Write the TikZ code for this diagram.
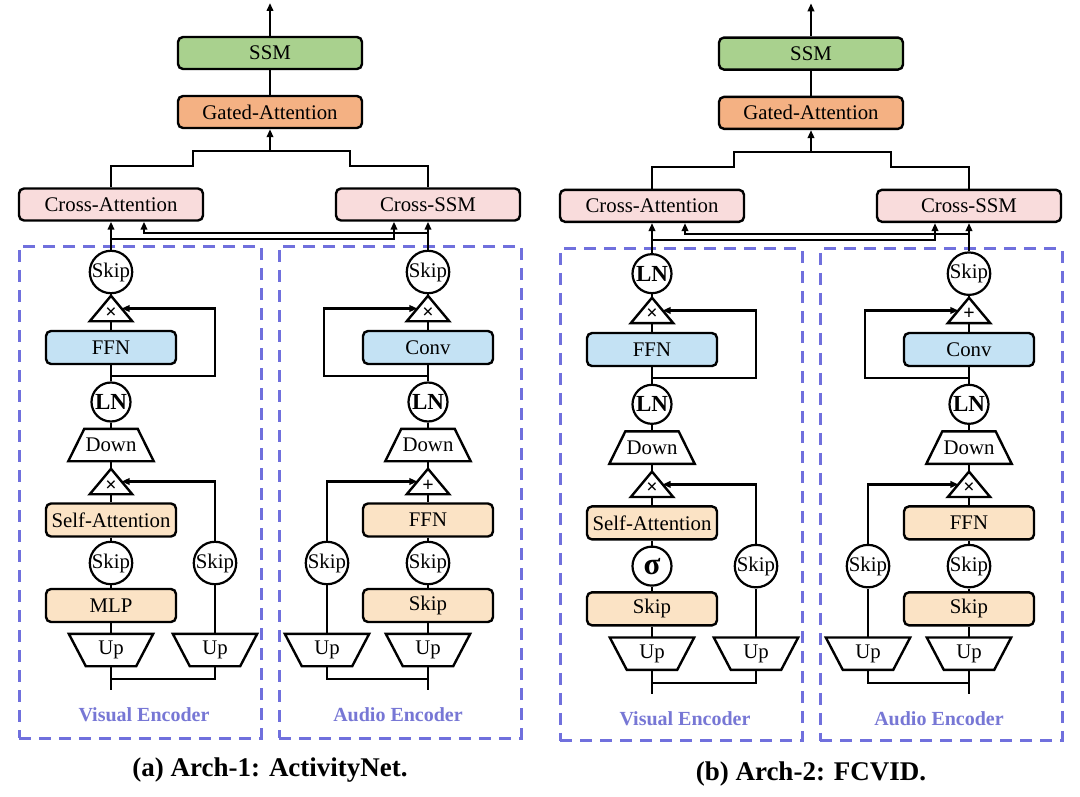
\documentclass[tikz,border=0pt]{standalone}
\usepackage{fontspec}
\setmainfont{Liberation Serif}
\usetikzlibrary{arrows.meta,calc}
\definecolor{cgreen}{HTML}{A9D18E}
\definecolor{cgated}{HTML}{F4B183}
\definecolor{cpink}{HTML}{F9DCDC}
\definecolor{cblue}{HTML}{C4E2F4}
\definecolor{cpeach}{HTML}{FBE3C5}
\definecolor{cdash}{HTML}{7070DD}
\definecolor{clabel}{HTML}{7777D5}
\newcommand\fs{\fontsize{20.8}{22}\selectfont}
\newcommand\LNtxt{{\fontsize{23}{23}\selectfont\bfseries LN}}
\newcommand\SigTxt{{\fontsize{31}{31}\selectfont\bfseries σ}}
\newcommand\TriSym[1]{\raisebox{-9.5pt}[0pt][0pt]{#1}}
\tikzset{
  wire/.style={line width=2.2pt},
  arr/.style={wire, -{Triangle[length=8pt,width=6.5pt]}},
  blk/.style={draw, line width=2.4pt, rounded corners=5pt, minimum width=130pt, minimum height=33pt, inner sep=0pt, font=\fs},
  topbox/.style={blk, minimum width=184pt, minimum height=32pt},
  circ/.style={circle, draw, line width=2.2pt, minimum size=39pt, inner sep=0pt, fill=white, font=\fs},
  tri/.style={minimum width=42pt, minimum height=25pt, inner sep=0pt, font=\fontsize{20}{20}\selectfont\bfseries},
  trapdn/.style={minimum width=85pt, minimum height=32pt, inner sep=0pt, font=\fs},
  trapup/.style={minimum width=84pt, minimum height=32pt, inner sep=0pt, font=\fs},
  shp/.style={line width=2.4pt, line join=miter},
  dbox/.style={draw=cdash, line width=3pt, dash pattern=on 12pt off 8pt, minimum width=242pt, minimum height=492pt, inner sep=0pt},
  enclabel/.style={text=clabel, font=\fontsize{20}{22}\selectfont\bfseries},
  captxt/.style={font=\fontsize{27}{29}\selectfont\bfseries},
}
% #1 prefix, #2 visual top circle, #3 audio top tri symbol, #4 audio lower tri symbol,
% #5 visual middle circle, #6 visual bottom box, #7 caption
\newcommand\DrawArch[7]{%
  % encoder frames
  \node[dbox] (#1Venc) at (140,492) {};
  \node[dbox] (#1Aenc) at (400,492) {};
  \node[enclabel] (#1Vlab) at (144,715) {Visual Encoder};
  \node[enclabel] (#1Alab) at (398,715) {Audio Encoder};
  \node[captxt] (#1cap) at (270,770) {#7};
  % top
  \node[topbox, fill=cgreen] (#1SSM) at (270,53) {SSM};
  \node[topbox, fill=cgated] (#1GA) at (270,112) {Gated-Attention};
  \node[topbox, fill=cpink] (#1CA) at (111,204.5) {Cross-Attention};
  \node[topbox, fill=cpink] (#1CS) at (428,204.5) {Cross-SSM};
  \coordinate (#1out) at (270,3);
  \coordinate (#1J) at (270,151);
  \draw[arr] (#1SSM.north) -- (#1out);
  \draw[wire] (#1GA.north) -- (#1SSM.south);
  \draw[wire] (#1CA.north) |- (193,166) |- (#1J) -| (350,166) -| (#1CS.north);
  \draw[arr] (#1J) -- (#1GA.south);
  % visual column
  \node[circ] (#1Vtop) at (111,272) {#2};
  \node[tri] (#1Vt1) at (111,308.5) {\TriSym{×}};
  \node[blk, fill=cblue] (#1Vffn) at (111,347.5) {FFN};
  \node[circ] (#1Vln) at (111,402) {\LNtxt};
  \node[trapdn] (#1Vdown) at (111,445) {Down};
  \node[tri] (#1Vt2) at (111,481.5) {\TriSym{×}};
  \node[blk, fill=cpeach] (#1Vsa) at (111,520) {Self-Attention};
  \node[circ] (#1Vmid) at (111,563) {#5};
  \node[blk, fill=cpeach] (#1Vbot) at (111,605.5) {#6};
  \node[trapup] (#1Vup) at (111,650) {Up};
  \node[circ] (#1Vbskip) at (215,563) {Skip};
  \node[trapup] (#1Vbup) at (215,650) {Up};
  % audio column
  \node[circ] (#1Atop) at (428,272) {Skip};
  \node[tri] (#1At1) at (428,308.5) {\TriSym{#3}};
  \node[blk, fill=cblue] (#1Aconv) at (428,347.5) {Conv};
  \node[circ] (#1Aln) at (428,402) {\LNtxt};
  \node[trapdn] (#1Adown) at (428,445) {Down};
  \node[tri] (#1At2) at (428,481.5) {\TriSym{#4}};
  \node[blk, fill=cpeach] (#1Affn) at (428,520) {FFN};
  \node[circ] (#1Amid) at (428,563) {Skip};
  \node[blk, fill=cpeach] (#1Abot) at (428,605.5) {Skip};
  \node[trapup] (#1Aup) at (428,650) {Up};
  \node[circ] (#1Abskip) at (327,563) {Skip};
  \node[trapup] (#1Abup) at (327,650) {Up};
  % shapes
  \foreach \t in {#1Vt1,#1Vt2,#1At1,#1At2}{
    \draw[shp] (\t.south west) -- (\t.north) -- (\t.south east) -- cycle;}
  \foreach \t in {#1Vdown,#1Adown}{
    \draw[shp] (\t.south west) -- (\t.south east) -- ([xshift=-16pt]\t.north east) -- ([xshift=16pt]\t.north west) -- cycle;}
  \foreach \t in {#1Vup,#1Vbup,#1Aup,#1Abup}{
    \draw[shp] (\t.north west) -- (\t.north east) -- ([xshift=-17pt]\t.south east) -- ([xshift=17pt]\t.south west) -- cycle;}
  % into cross blocks
  \coordinate (#1CAin) at ([xshift=33pt]#1CA.south);
  \coordinate (#1CSin) at ([xshift=-34pt]#1CS.south);
  \draw[arr] (#1Vtop.north) -- (#1CA.south);
  \draw[arr] (#1Atop.north) -- (#1CS.south);
  \draw[arr] ([yshift=-17pt]#1CA.south) -| (#1CSin);
  \draw[arr] ([yshift=-11pt]#1CS.south) -| (#1CAin);
  % visual spine
  \draw[wire] (#1Vtop.south) -- (#1Vt1.north);
  \draw[wire] (#1Vt1.south) -- (#1Vffn.north);
  \draw[wire] (#1Vffn.south) -- (#1Vln.north);
  \draw[wire] (#1Vln.south) -- (#1Vdown.north);
  \draw[wire] (#1Vdown.south) -- (#1Vt2.north);
  \draw[wire] (#1Vt2.south) -- (#1Vsa.north);
  \draw[wire] (#1Vsa.south) -- (#1Vmid.north);
  \draw[wire] (#1Vmid.south) -- (#1Vbot.north);
  \draw[wire] (#1Vbot.south) -- (#1Vup.north);
  \draw[wire] (#1Vup.south) -- ++(0,24);
  \draw[wire] (#1Vbup.north) -- (#1Vbskip.south);
  \draw[wire] ([yshift=-13pt]#1Vup.south) -| (#1Vbup.south);
  \coordinate (#1Vt1s) at ($(#1Vt1.north)!0.5!(#1Vt1.south east)$);
  \coordinate (#1Vt2s) at ($(#1Vt2.north)!0.5!(#1Vt2.south east)$);
  \draw[arr] ([yshift=-11pt]#1Vffn.south) -- ++(104,0) |- (#1Vt1s);
  \draw[arr] (#1Vbskip.north) |- (#1Vt2s);
  % audio spine
  \draw[wire] (#1Atop.south) -- (#1At1.north);
  \draw[wire] (#1At1.south) -- (#1Aconv.north);
  \draw[wire] (#1Aconv.south) -- (#1Aln.north);
  \draw[wire] (#1Aln.south) -- (#1Adown.north);
  \draw[wire] (#1Adown.south) -- (#1At2.north);
  \draw[wire] (#1At2.south) -- (#1Affn.north);
  \draw[wire] (#1Affn.south) -- (#1Amid.north);
  \draw[wire] (#1Amid.south) -- (#1Abot.north);
  \draw[wire] (#1Abot.south) -- (#1Aup.north);
  \draw[wire] (#1Aup.south) -- ++(0,24);
  \draw[wire] (#1Abup.north) -- (#1Abskip.south);
  \draw[wire] ([yshift=-13pt]#1Aup.south) -| (#1Abup.south);
  \coordinate (#1At1s) at ($(#1At1.north)!0.5!(#1At1.south west)$);
  \coordinate (#1At2s) at ($(#1At2.north)!0.5!(#1At2.south west)$);
  \draw[arr] ([yshift=-11pt]#1Aconv.south) -- ++(-104,0) |- (#1At1s);
  \draw[arr] (#1Abskip.north) |- (#1At2s);
}
\begin{document}
\begin{tikzpicture}[x=1pt,y=-1pt]
\useasboundingbox (0,0) rectangle (1080,797);
\fill[white] (0,0) rectangle (1080,797);
\begin{scope}
\DrawArch{a}{Skip}{×}{+}{Skip}{MLP}{(a) Arch-1: ActivityNet.}
\end{scope}
\begin{scope}[shift={(541,0.3)}, yscale=1.005]
\DrawArch{b}{\LNtxt}{+}{×}{\SigTxt}{Skip}{(b) Arch-2: FCVID.}
\end{scope}
\end{tikzpicture}
\end{document}
